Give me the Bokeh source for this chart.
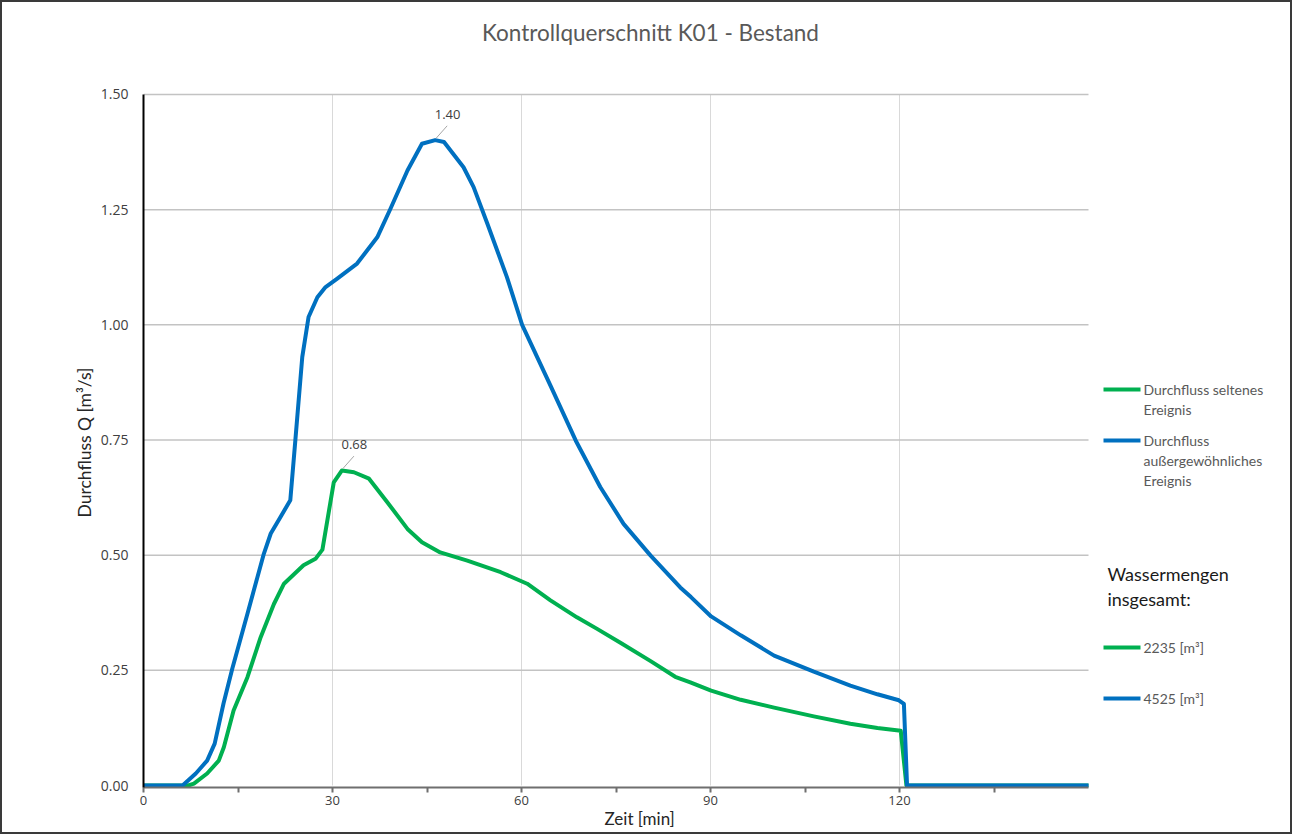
from bokeh.plotting import figure
from bokeh.models import Range1d, FixedTicker, PrintfTickFormatter, Title
from bokeh.core.properties import value
from bokeh.embed import file_html
from bokeh.resources import INLINE

# ---------------- data ----------------
title_text = "Kontrollquerschnitt K01 - Bestand"
x_label = "Zeit [min]"
y_label = "Durchfluss Q [m³/s]"

time_selten = [0, 7.1, 8, 10.1, 11.95, 12.75, 14.3, 16.5, 18.6, 20.7, 22.3, 25.4, 27.3, 28.4,
               30.2, 31.5, 33.4, 35.8, 38.7, 41.9, 44.2, 47.1, 51.4, 56.7, 60.9, 64.6, 68.8,
               72, 75.7, 80.5, 84.4, 86.8, 90.1, 94.8, 100.1, 106.4, 112.2, 116.5, 120.2,
               121.1, 150]
q_selten = [0, 0, 0.004, 0.026, 0.054, 0.083, 0.163, 0.235, 0.322, 0.394, 0.438, 0.478, 0.492,
            0.512, 0.658, 0.684, 0.680, 0.666, 0.615, 0.557, 0.528, 0.506, 0.488, 0.463, 0.438,
            0.402, 0.365, 0.340, 0.310, 0.270, 0.236, 0.224, 0.206, 0.186, 0.169, 0.150, 0.134,
            0.125, 0.119, 0, 0]

time_ausser = [0, 6.2, 8.3, 10.1, 11.3, 12.7, 14.1, 16.5, 19.1, 20.2, 21.7, 23.3, 24.1, 25.2,
               26.2, 27.6, 28.9, 30.7, 33.9, 37.1, 39.2, 41.9, 44.2, 46.3, 47.7, 50.8, 52.4,
               54.6, 57.7, 60.1, 64.6, 68.6, 72.5, 76.2, 80.5, 85.2, 86.9, 90.1, 94.8, 100.1,
               106.4, 112.2, 116.5, 119.9, 120.7, 121.2, 150]
q_ausser = [0, 0, 0.026, 0.054, 0.091, 0.178, 0.254, 0.373, 0.503, 0.547, 0.582, 0.619, 0.749,
            0.930, 1.017, 1.060, 1.082, 1.100, 1.133, 1.190, 1.252, 1.335, 1.393, 1.401, 1.397,
            1.342, 1.299, 1.219, 1.103, 1.000, 0.868, 0.749, 0.648, 0.568, 0.499, 0.430, 0.409,
            0.367, 0.326, 0.282, 0.247, 0.217, 0.198, 0.185, 0.177, 0, 0]

series_names = ["Durchfluss seltenes\nEreignis", "Durchfluss\naußergewöhnliches\nEreignis"]
volume_title = "Wassermengen\ninsgesamt:"
volume_labels = ["2235 [m³]", "4525 [m³]"]

x_ticks = [0, 30, 60, 90, 120]
x_minor = [15, 45, 75, 105, 135]
y_ticks = [0, 0.25, 0.5, 0.75, 1.0, 1.25, 1.5]
x_max = 150
y_max = 1.5

# ---------------- styling / layout ----------------
GREEN = "#00B050"
BLUE = "#0070C0"
TXT = "#404040"
GRID = "#c3c3c3"
VGRID = "#d9d9d9"
W, H = 1292, 834
ML, MB = 143, 47
PX_PER_MIN = 6.3
PX_PER_Q = 460.67
FRAME_LEFT_PAGE, ZERO_PAGE = 143, 785


def tx(px):  # reference page x -> data x
    return (px - FRAME_LEFT_PAGE) / PX_PER_MIN


def qy(py):  # reference page y -> data y
    return (ZERO_PAGE - py) / PX_PER_Q


frame_w = W - ML
frame_h = H - MB
x_end = frame_w / PX_PER_MIN
y_start = -2 / PX_PER_Q
y_end = y_start + frame_h / PX_PER_Q

p = figure(width=W, height=H, x_range=Range1d(0, x_end), y_range=Range1d(y_start, y_end),
           output_backend="svg", toolbar_location=None, title=None,
           min_border_left=ML, min_border_right=0, min_border_top=0, min_border_bottom=MB)
# chart border: painted by the host element behind a transparent canvas
p.styles = {"background-color": "white",
            "box-shadow": "inset 0 0 0 2px #3a3a3a"}
p.outline_line_color = None
p.background_fill_color = None
p.border_fill_color = None
p.xgrid.visible = False
p.ygrid.visible = False

# x axis
xa = p.xaxis[0]
xa.ticker = FixedTicker(ticks=x_ticks, minor_ticks=x_minor)
xa.bounds = (0, x_max)
xa.axis_line_color = "#6f6f6f"
xa.axis_line_width = 2
xa.major_tick_line_color = "#6f6f6f"
xa.minor_tick_line_color = "#6f6f6f"
xa.major_tick_line_width = 2
xa.minor_tick_line_width = 2
xa.major_tick_in = 0
xa.major_tick_out = 5
xa.minor_tick_in = 0
xa.minor_tick_out = 5
xa.major_label_standoff = 3
xa.major_label_text_font = "Open Sans"
xa.major_label_text_font_size = "13px"
xa.major_label_text_color = TXT

has_standoff = "standoff" in Title.properties()

# x label as a title below the axis
xt = Title(text=x_label, align="left", offset=604 - FRAME_LEFT_PAGE, vertical_align="top",
           text_font="Lato", text_font_size="17px", text_font_style="normal",
           text_color="#262626")
if has_standoff:
    xt.standoff = 0
p.add_layout(xt, "below")

# y axis
ya = p.yaxis[0]
ya.ticker = FixedTicker(ticks=y_ticks)
ya.bounds = (y_start, y_max)
ya.formatter = PrintfTickFormatter(format="%.2f")
ya.axis_line_color = "black"
ya.axis_line_width = 2
ya.major_tick_out = 0
ya.major_tick_in = 0
ya.minor_tick_out = 0
ya.minor_tick_in = 0
ya.major_label_standoff = 15
ya.major_label_text_font = "Open Sans"
ya.major_label_text_font_size = "14px"
ya.major_label_text_color = TXT

# y label as a title left of the axis, centred on the data area
yt = Title(text=y_label, align="left", offset=(ZERO_PAGE + 2) - 517,
           text_font="Lato", text_font_size="17.5px", text_font_style="normal",
           text_color="#262626")
if has_standoff:
    yt.standoff = 6
p.add_layout(yt, "left")

# grid lines (bounded to the data area)
for xv in x_ticks[1:]:
    p.segment(x0=xv, y0=0, x1=xv, y1=y_max, line_color=VGRID, line_width=1)
for yv in y_ticks[1:]:
    p.segment(x0=0, y0=yv, x1=x_max, y1=yv, line_color=GRID, line_width=1.5)

# series
p.line(time_selten, q_selten, line_color=GREEN, line_width=4, line_join="round")
p.line(time_ausser, q_ausser, line_color=BLUE, line_width=4, line_join="round")

# peak labels with leader lines
for tt, qq in [(time_ausser, q_ausser), (time_selten, q_selten)]:
    i = qq.index(max(qq))
    p.segment(x0=tt[i] + 0.15, y0=qq[i] + 0.004, x1=tt[i] + 1.9, y1=qq[i] + 0.031,
              line_color="#a6a6a6", line_width=1)
    p.text(x=[tt[i] + 1.97], y=[qq[i] + 0.056], text=[f"{max(qq):.2f}"],
           text_align="center", text_baseline="middle",
           text_font=value("Open Sans"), text_font_size="13px", text_color=TXT)

# chart title (drawn inside the wide frame, above the data area)
p.text(x=[tx(650)], y=[qy(32)], text=[title_text], text_align="center",
       text_baseline="middle", text_font=value("Lato"), text_font_size="22.5px",
       text_color="#595959")

# custom legend
line_x0, line_x1, text_x = tx(1103), tx(1140), tx(1143)
LH = 20


def legend_entry(color, lines, y_px):
    p.line([line_x0, line_x1], [qy(y_px), qy(y_px)], line_color=color, line_width=4)
    p.text(x=[text_x] * len(lines), y=[qy(y_px + k * LH) for k in range(len(lines))],
           text=lines, text_align="left", text_baseline="middle",
           text_font=value("Lato"), text_font_size="14px", text_color="#595959")


legend_entry(GREEN, series_names[0].split("\n"), 389)
legend_entry(BLUE, series_names[1].split("\n"), 440)
vt = volume_title.split("\n")
p.text(x=[tx(1107)] * len(vt), y=[qy(573 + k * 25) for k in range(len(vt))], text=vt,
       text_align="left", text_baseline="middle", text_font=value("Lato"),
       text_font_size="18px", text_color="#1a1a1a")
legend_entry(GREEN, [volume_labels[0]], 647)
legend_entry(BLUE, [volume_labels[1]], 698)

open("out.html", "w").write(file_html(p, INLINE))
